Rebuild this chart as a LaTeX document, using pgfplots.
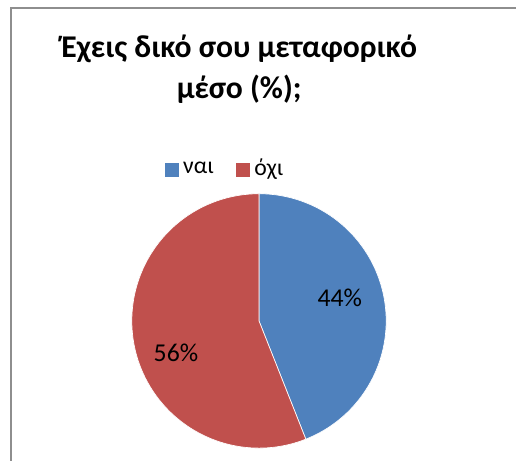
\documentclass[border=0pt]{standalone}
\usepackage{pgfplots}
\pgfplotsset{compat=1.18}
\usepackage{pgfplotstable}
\usepgfplotslibrary{polar}
\usepackage{fontspec}
\setmainfont{Carlito}
\definecolor{pieblue}{HTML}{4F81BD}
\definecolor{piered}{HTML}{C0504D}
\definecolor{framegray}{HTML}{8E8E8E}
\pgfplotstableread{
label value
nai 44
ochi 56
}\piedata
\begin{document}
\pgfplotstablegetelem{0}{value}\of\piedata \let\va\pgfplotsretval
\pgfplotstablegetelem{1}{value}\of\piedata \let\vb\pgfplotsretval
\pgfmathsetmacro\aA{90-3.6*\va}
\pgfmathsetmacro\aB{\aA-3.6*\vb}
\begin{tikzpicture}[x=0.75pt,y=0.75pt]
\useasboundingbox (0,0) rectangle (516,466);
\draw[framegray, line width=1.5pt] (5,0) -- (5,458) -- (516,458);
\node[font=\fontsize{24}{31.5}\selectfont\bfseries, align=center] at (236,396) {Έχεις δικό σου μεταφορικό\\μέσο (\%);};
\begin{polaraxis}[at={(192pt,106pt)}, anchor=center, scale only axis,
  width=193pt, height=193pt, hide axis, ymin=0, ymax=1, clip=false,
  legend columns=-1,
  legend style={at={(0.366,1.10)}, anchor=center, draw=none, fill=none,
    font=\fontsize{18}{20}\selectfont,
    /tikz/every odd column/.append style={column sep=1pt},
    /tikz/every even column/.append style={column sep=14pt}},
  legend image code/.code={\fill[#1] (0pt,-7pt) rectangle (11.25pt,4.25pt);}]
\addplot[fill=pieblue, draw=white, line width=0.5pt, domain=\aA:90, samples=120] (x,1) -- (axis cs:0,0) -- cycle;
\addlegendentry{ναι}
\addplot[fill=piered, draw=white, line width=0.5pt, domain=\aB:\aA, samples=160] (x,1) -- (axis cs:0,0) -- cycle;
\addlegendentry{όχι}
\node[font=\fontsize{19.5}{22}\selectfont] at (axis cs:15.9,0.66) {44\%};
\node[font=\fontsize{19.5}{22}\selectfont] at (axis cs:201.1,0.70) {56\%};
\end{polaraxis}
\end{tikzpicture}
\end{document}
